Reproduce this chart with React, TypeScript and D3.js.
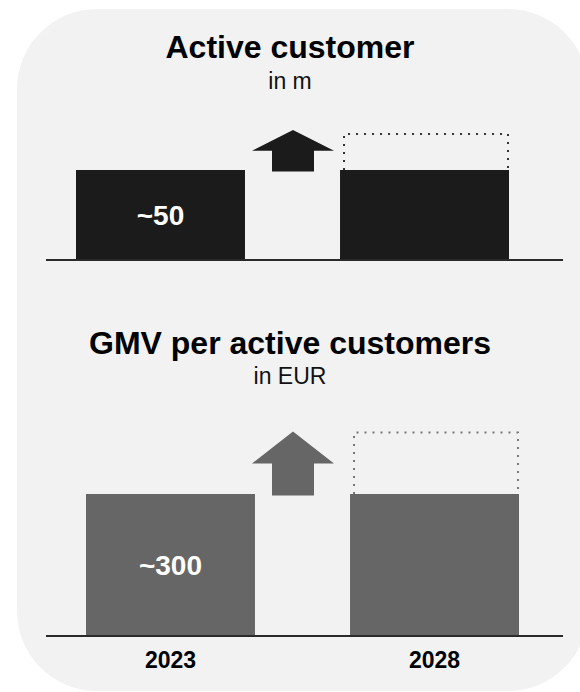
import React from "react";
import * as d3 from "d3";

const years = ["2023", "2028"];
const activeCustomers = [50, 50];
const activeCustomersUpside = 70;
const activeCustomersLabels = ["~50", ""];
const gmvPerCustomer = [300, 300];
const gmvPerCustomerUpside = 430;
const gmvPerCustomerLabels = ["~300", ""];

const W = 580;
const H = 692;
const FONT = "'Liberation Sans', Arial, Helvetica, sans-serif";

type PanelProps = {
  title: string;
  subtitle: string;
  titleY: number;
  subtitleY: number;
  values: number[];
  upside: number;
  labels: string[];
  axisY: number;
  pxPerUnit: number;
  bandRange: [number, number];
  color: string;
  dotColor: string;
  arrowX: number;
  arrowTipOffset: number;
  showYears: boolean;
};

function Panel(p: PanelProps) {
  const x = d3.scaleBand<string>().domain(years).range(p.bandRange).paddingInner(0.36).paddingOuter(0);
  const maxV = d3.max([...p.values, p.upside]) as number;
  const y = d3.scaleLinear().domain([0, maxV]).range([p.axisY, p.axisY - maxV * p.pxPerUnit]);
  const bw = x.bandwidth();
  const last = years[years.length - 1];
  const lastV = p.values[p.values.length - 1];
  const dl = (x(last) as number) + 4;
  const dr = (x(last) as number) + bw - 1;
  const dTop = y(p.upside);
  const dBottom = y(lastV);
  const dotted = d3.path();
  dotted.moveTo(dl, dBottom);
  dotted.lineTo(dl, dTop);
  dotted.lineTo(dr, dTop);
  dotted.lineTo(dr, dBottom);

  const tip = dTop - p.arrowTipOffset;
  const aBottom = y(p.values[0]) + 1.5;
  const mid = (tip + aBottom) / 2;
  const ax = p.arrowX;
  const arrow = d3.path();
  arrow.moveTo(ax, tip);
  arrow.lineTo(ax + 41, mid);
  arrow.lineTo(ax + 21, mid);
  arrow.lineTo(ax + 21, aBottom);
  arrow.lineTo(ax - 21, aBottom);
  arrow.lineTo(ax - 21, mid);
  arrow.lineTo(ax - 41, mid);
  arrow.closePath();

  return (
    <g>
      <text x={290} y={p.titleY} textAnchor="middle" fontFamily={FONT} fontWeight="bold" fontSize={32} fill="#000">
        {p.title}
      </text>
      <text x={290} y={p.subtitleY} textAnchor="middle" fontFamily={FONT} fontSize={23} fill="#111">
        {p.subtitle}
      </text>
      {years.map((yr, i) => (
        <rect key={yr} x={x(yr)} y={y(p.values[i])} width={bw} height={y(0) - y(p.values[i])} fill={p.color} />
      ))}
      <path d={dotted.toString()} fill="none" stroke={p.dotColor} strokeWidth={2} strokeDasharray="2 6" />
      <path d={arrow.toString()} fill={p.color} />
      <line x1={46} x2={563} y1={p.axisY} y2={p.axisY} stroke="#2a2a2a" strokeWidth={2} />
      {years.map((yr, i) =>
        p.labels[i] ? (
          <text
            key={"l" + yr}
            x={(x(yr) as number) + bw / 2}
            y={(y(p.values[i]) + y(0)) / 2}
            dy="0.36em"
            textAnchor="middle"
            fontFamily={FONT}
            fontWeight="bold"
            fontSize={28}
            fill="#fff"
          >
            {p.labels[i]}
          </text>
        ) : null
      )}
      {p.showYears &&
        years.map((yr) => (
          <text
            key={"y" + yr}
            x={(x(yr) as number) + bw / 2}
            y={p.axisY + 32}
            textAnchor="middle"
            fontFamily={FONT}
            fontWeight="bold"
            fontSize={23}
            fill="#000"
          >
            {yr}
          </text>
        ))}
    </g>
  );
}

export default function App() {
  return (
    <div style={{ position: "absolute", left: 0, top: 0 }}>
      <svg width={W} height={H} style={{ display: "block" }}>
        <rect x={0} y={0} width={W} height={H} fill="#fff" />
        <rect x={17} y={9} width={571} height={682} rx={80} ry={80} fill="#f2f2f2" />
        <Panel
          title="Active customer"
          subtitle="in m"
          titleY={58}
          subtitleY={89}
          values={activeCustomers}
          upside={activeCustomersUpside}
          labels={activeCustomersLabels}
          axisY={260}
          pxPerUnit={1.8}
          bandRange={[76, 509]}
          color="#1b1b1b"
          dotColor="#333"
          arrowX={293}
          arrowTipOffset={4}
          showYears={false}
        />
        <Panel
          title="GMV per active customers"
          subtitle="in EUR"
          titleY={354}
          subtitleY={384}
          values={gmvPerCustomer}
          upside={gmvPerCustomerUpside}
          labels={gmvPerCustomerLabels}
          axisY={636}
          pxPerUnit={142 / 300}
          bandRange={[86, 519]}
          color="#666666"
          dotColor="#777"
          arrowX={293}
          arrowTipOffset={1}
          showYears={true}
        />
      </svg>
    </div>
  );
}
